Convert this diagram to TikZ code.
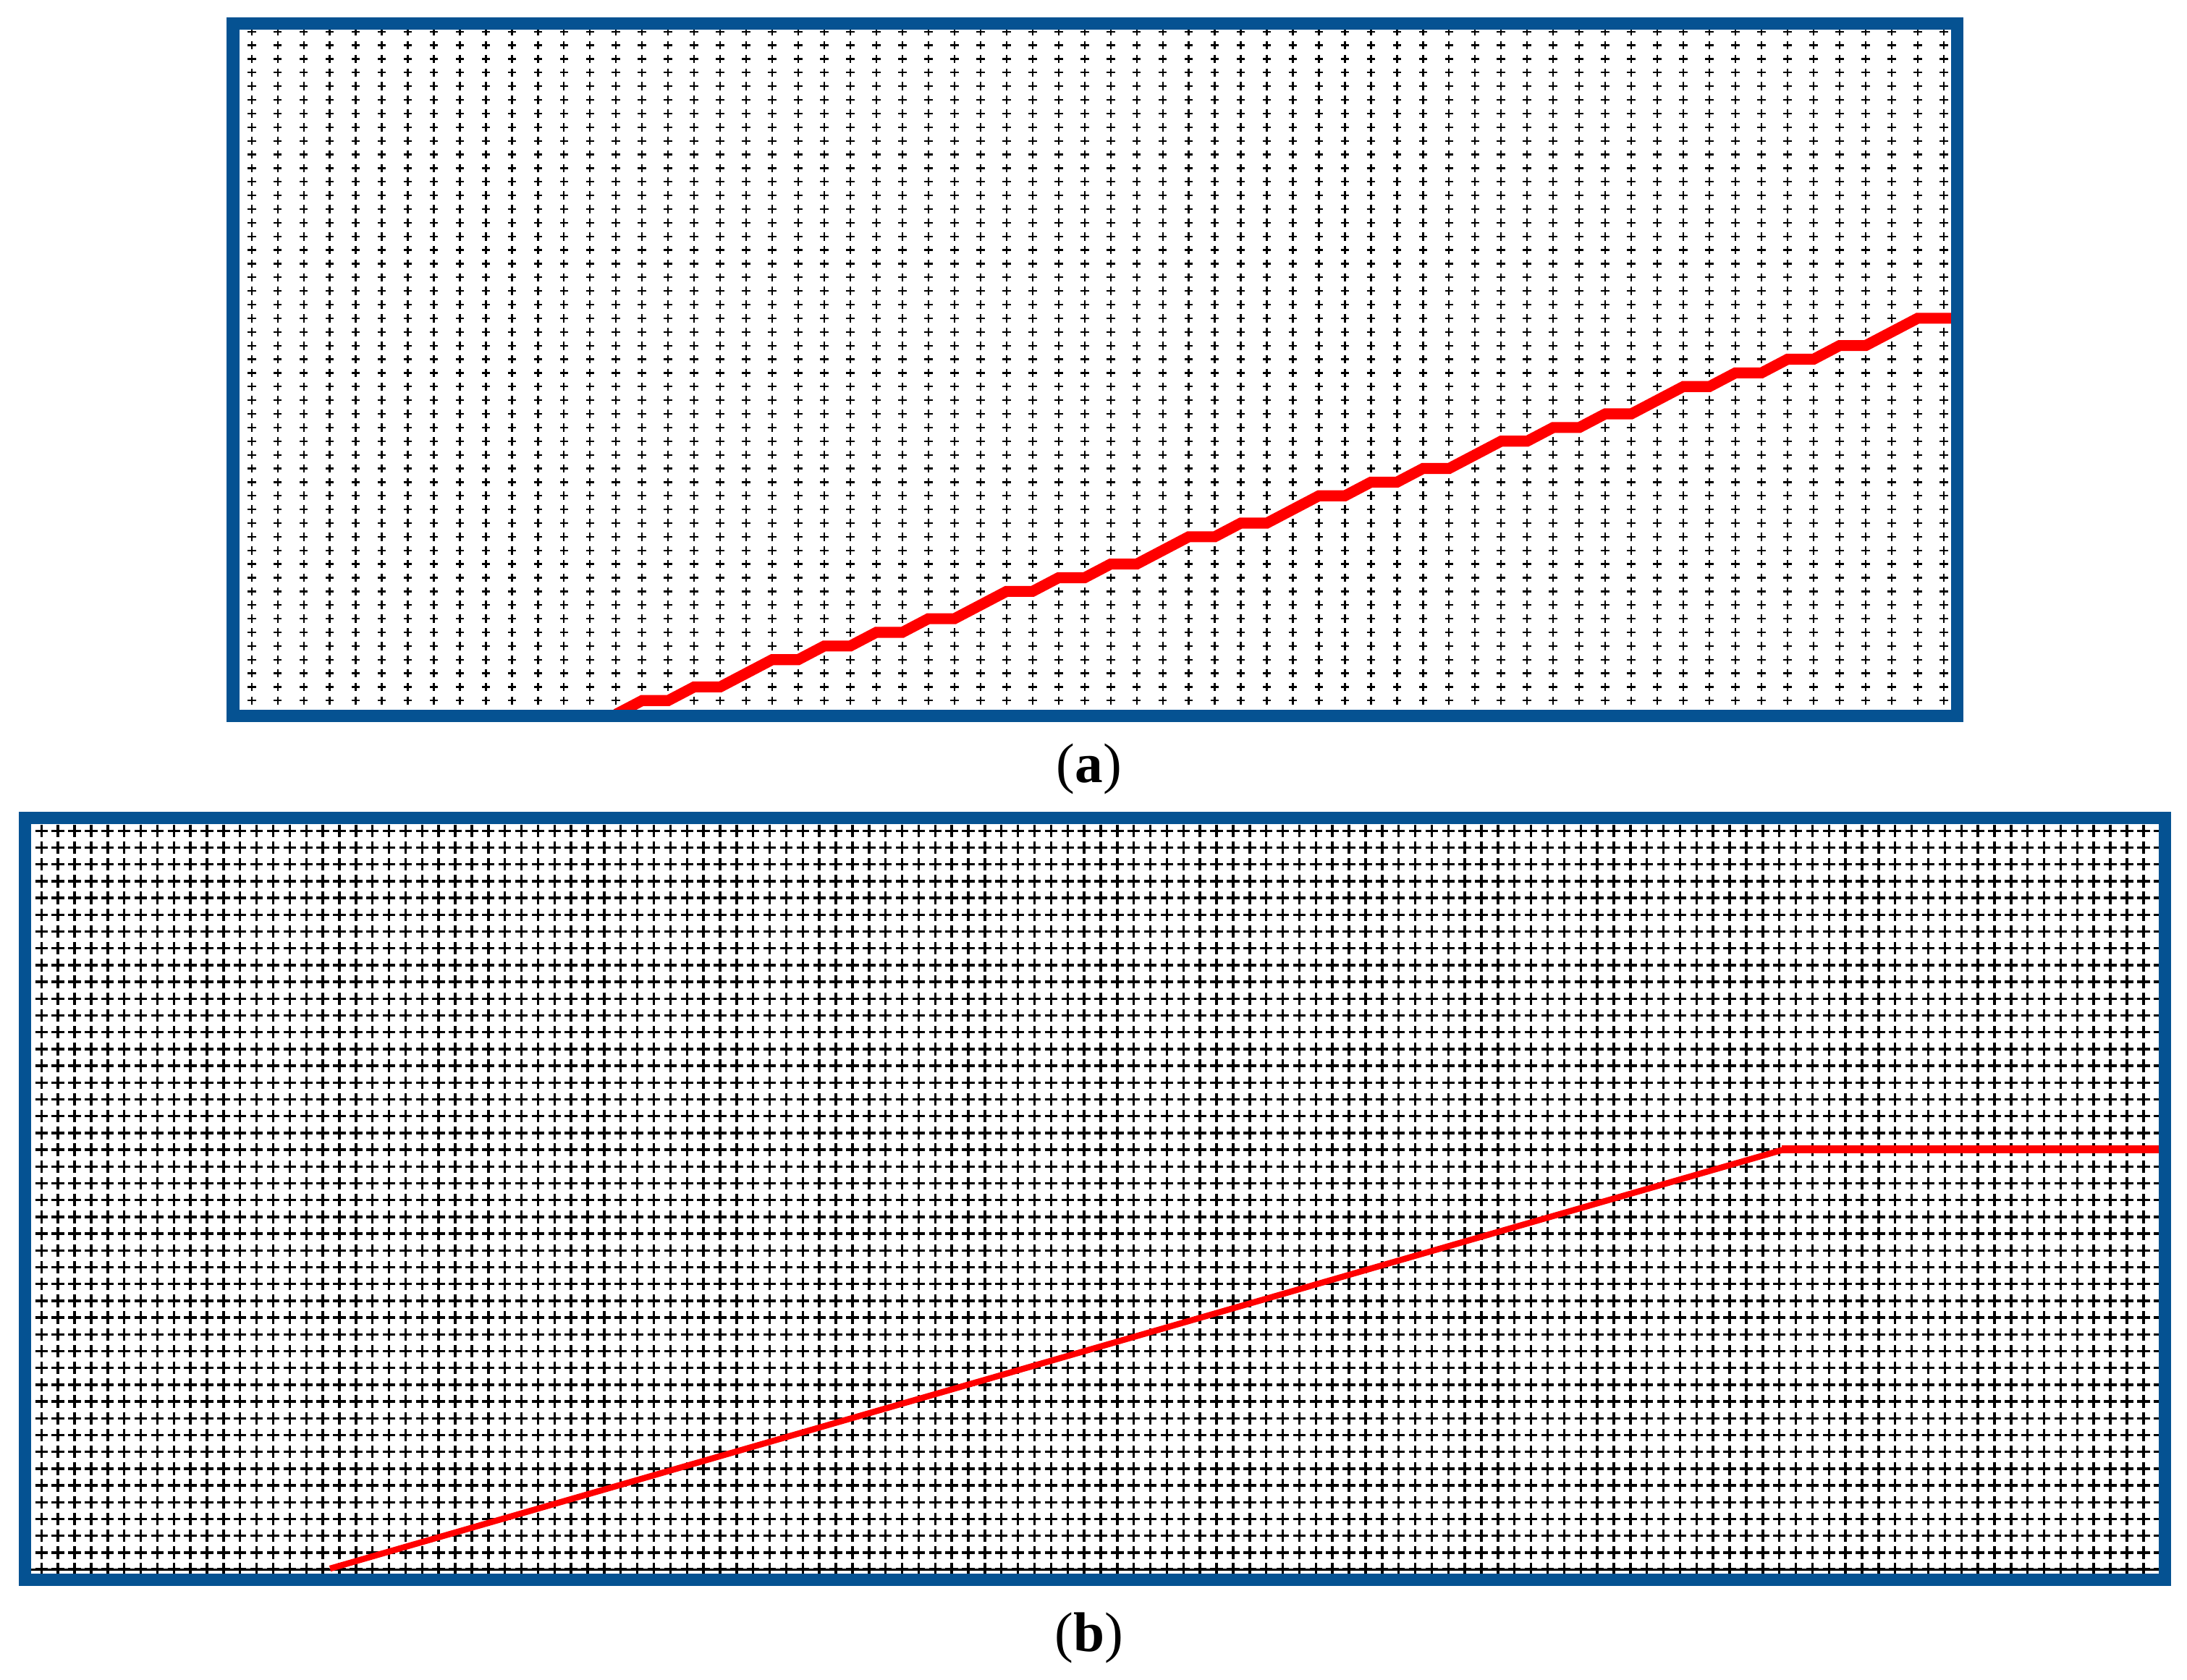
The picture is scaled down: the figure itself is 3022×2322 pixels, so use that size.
\documentclass[tikz,border=0pt]{standalone}
\usepackage{fontspec}
\setmainfont{Liberation Serif}
\definecolor{frameblue}{RGB}{5,82,146}
\begin{document}
\begin{tikzpicture}[x=0.1mm,y=-0.1mm,
  plusA/.style={line width=0.65pt,black},
  plusB/.style={line width=0.98pt,black},
  frame/.style={draw=frameblue,line width=4.84pt},
  stairline/.style={draw=red,line width=4.3pt},
  slopeline/.style={draw=red,line width=2.4pt},
  flatline/.style={draw=red,line width=3.1pt},
  lbl/.style={font=\fontsize{22}{26}\selectfont,inner sep=0pt}]
\useasboundingbox (0,0) rectangle (3022,2322);
\fill[white] (0,0) rectangle (3022,2322);
% ---------- panel (a): grid of crosses ----------
\foreach \j in {0,...,49}{
  \draw[plusA] \foreach \i in {0,...,65}{ ({347.7+35.97*\i},{43.7+18.87*\j}) +(-5.8,0) -- +(5.8,0) +(0,-5.8) -- +(0,5.8) };
}
% ---------- panel (a): stair-stepped red line ----------
\begin{scope}[shift={(347.7,968.3)},x={(35.97,0)},y={(0,-18.87)}]
  \draw[stairline] (14,-1) -- (15,0) -- (16,0) -- (17,1) -- (18,1) -- (20,3) -- (21,3)
    -- (22,4) -- (23,4) -- (24,5) -- (25,5) -- (26,6) -- (27,6) -- (29,8) -- (30,8)
    -- (31,9) -- (32,9) -- (33,10) -- (34,10) -- (36,12) -- (37,12) -- (38,13) -- (39,13)
    -- (41,15) -- (42,15) -- (43,16) -- (44,16) -- (45,17) -- (46,17) -- (48,19) -- (49,19)
    -- (50,20) -- (51,20) -- (52,21) -- (53,21) -- (55,23) -- (56,23) -- (57,24) -- (58,24)
    -- (59,25) -- (60,25) -- (61,26) -- (62,26) -- (64,28) -- (65.5,28);
\end{scope}
\draw[frame] (322,32.5) rectangle (2704,989.5);
\node[lbl] (la) at (1505,1062.5) {(\textbf{a})};
% ---------- panel (b): grid of crosses ----------
\foreach \j in {0,...,44}{
  \draw[plusB] \foreach \i in {0,...,128}{ ({57.3+22.87*\i},{1148.3+23.2*\j}) +(-8.7,0) -- +(8.7,0) +(0,-8.7) -- +(0,8.7) };
}
\draw[line width=0.85pt,black] (43,2169.5) -- (2982,2169.5);
% ---------- panel (b): red line ----------
\coordinate (bs) at (456,2168);
\coordinate (bk) at (2466,1588.5);
\coordinate (be) at (2995,1588.5);
\draw[slopeline] (bs) -- (bk);
\draw[flatline] (bk) ++(-4,0) -- (be);
\draw[frame] (34.5,1130.5) rectangle (2991.5,2183);
\node[lbl] (lb) at (1505,2264) {(\textbf{b})};
\end{tikzpicture}
\end{document}
